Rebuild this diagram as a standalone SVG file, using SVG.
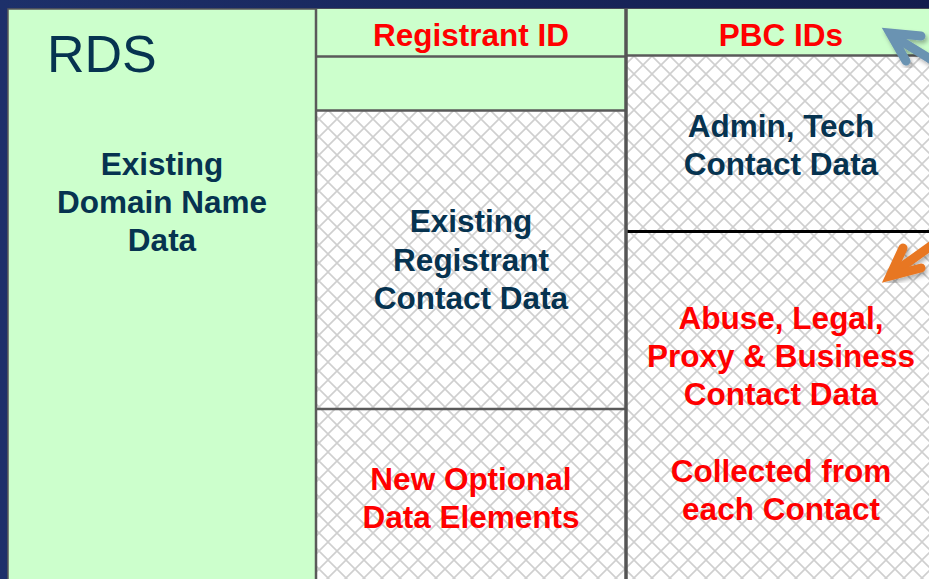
<svg xmlns="http://www.w3.org/2000/svg" width="929" height="579" viewBox="0 0 929 579">
<defs>
<linearGradient id="bg" x1="0" y1="0" x2="1" y2="0">
<stop offset="0" stop-color="#1d306a"/>
<stop offset="1" stop-color="#141d4e"/>
</linearGradient>
<pattern id="hatch" width="18" height="18" patternUnits="userSpaceOnUse" x="4" y="2">
<rect width="18" height="18" fill="#ffffff"/>
<path d="M0 0 L18 18 M18 0 L0 18 M-2 16 L2 20 M16 -2 L20 2 M-2 2 L2 -2 M16 20 L20 16" stroke="#cfcfcf" stroke-width="1.6" fill="none"/>
</pattern>
<filter id="sh" x="-20%" y="-20%" width="140%" height="140%">
<feDropShadow dx="2" dy="3" stdDeviation="2" flood-color="#000" flood-opacity="0.3"/>
</filter>
</defs>
<style>
.dk{font-family:"Liberation Sans",Arial,sans-serif;font-weight:bold;font-size:31.5px;fill:#063350;text-anchor:middle}
.rd{font-family:"Liberation Sans",Arial,sans-serif;font-weight:bold;font-size:31.5px;fill:#ff0000;text-anchor:middle}
.ln{stroke:#5a5a5a;stroke-width:2.5;fill:none}
.arr{fill:none;stroke-width:9;stroke-linecap:round;stroke-linejoin:miter}
</style>
<rect width="929" height="579" fill="url(#bg)"/>
<g id="rds">
<rect x="8" y="9" width="930" height="580" fill="#ccffcc" stroke="#5a5a5a" stroke-width="1.5"/>
<text x="47" y="72" style="font-family:'Liberation Sans',Arial,sans-serif;font-size:52px;fill:#063350">RDS</text>
</g>
<g id="domain-data">
<text class="dk" x="162" y="175">Existing</text>
<text class="dk" x="162" y="213">Domain Name</text>
<text class="dk" x="162" y="251">Data</text>
</g>
<g id="registrant-id">
<rect x="316" y="9" width="310" height="47" fill="#ccffcc"/>
<text class="rd" x="471" y="46">Registrant ID</text>
</g>
<g id="registrant-blank">
<rect x="316" y="56" width="310" height="55" fill="#ccffcc"/>
</g>
<g id="registrant-contact">
<rect x="316" y="111" width="310" height="298" fill="url(#hatch)"/>
<text class="dk" x="471" y="232">Existing</text>
<text class="dk" x="471" y="271">Registrant</text>
<text class="dk" x="471" y="309">Contact Data</text>
</g>
<g id="new-optional">
<rect x="316" y="409" width="310" height="180" fill="url(#hatch)"/>
<text class="rd" x="471" y="490">New Optional</text>
<text class="rd" x="471" y="528">Data Elements</text>
</g>
<g id="pbc-ids">
<rect x="626" y="9" width="310" height="47" fill="#ccffcc"/>
<text class="rd" x="781" y="46">PBC IDs</text>
</g>
<g id="admin-tech">
<rect x="626" y="56" width="310" height="176" fill="url(#hatch)"/>
<text class="dk" x="781" y="137">Admin, Tech</text>
<text class="dk" x="781" y="175">Contact Data</text>
</g>
<g id="abuse-legal">
<rect x="626" y="232" width="310" height="357" fill="url(#hatch)"/>
<text class="rd" x="781" y="329">Abuse, Legal,</text>
<text class="rd" x="781" y="367">Proxy &amp; Business</text>
<text class="rd" x="781" y="405">Contact Data</text>
<text class="rd" x="781" y="482">Collected from</text>
<text class="rd" x="781" y="520">each Contact</text>
</g>
<g id="grid-lines">
<line class="ln" x1="316" y1="9" x2="316" y2="579"/>
<line class="ln" x1="316" y1="56.5" x2="626" y2="56.5"/>
<line class="ln" x1="316" y1="110.5" x2="626" y2="110.5"/>
<line class="ln" x1="316" y1="409" x2="626" y2="409"/>
<line class="ln" x1="626" y1="55.5" x2="929" y2="55.5"/>
<line x1="626" y1="231.5" x2="929" y2="231.5" stroke="#000" stroke-width="3"/>
<line x1="626" y1="9" x2="626" y2="579" stroke="#555" stroke-width="3.5"/>
</g>
<g id="connectors">
<g filter="url(#sh)">
<path class="arr" stroke="#6a93b2" d="M935 62 L893 36"/>
<path class="arr" stroke="#6a93b2" d="M921 36 L890 33 L906 61"/>
</g>
<g filter="url(#sh)">
<path class="arr" stroke="#e87722" d="M935 243 L893 273"/>
<path class="arr" stroke="#e87722" d="M903 248 L890 276 L921 268"/>
</g>
</g>
</svg>
